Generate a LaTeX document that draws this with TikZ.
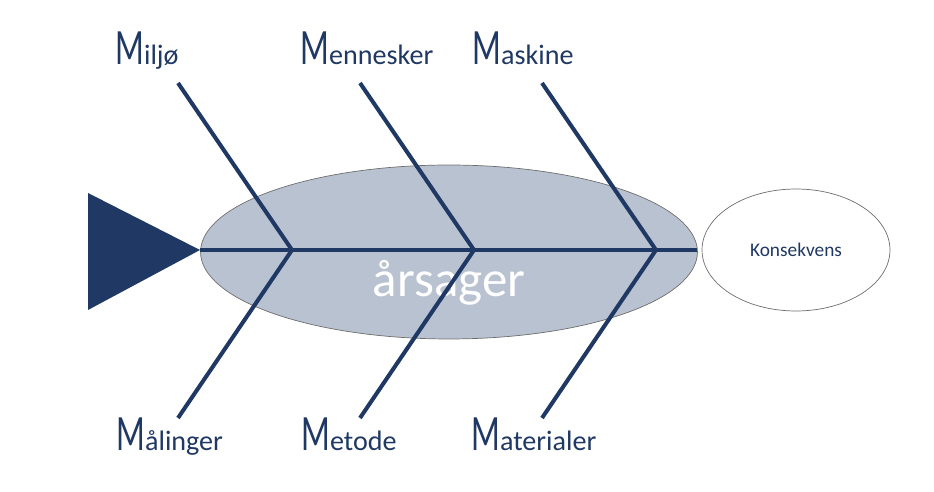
\documentclass[tikz,border=0pt]{standalone}
\usepackage{fontspec}
\setmainfont{Carlito}
\newfontfamily\capfont[FakeStretch=0.66]{Carlito}
\usetikzlibrary{shapes.geometric}
\usetikzlibrary{positioning}

\definecolor{navy}{RGB}{31,56,100}
\definecolor{bodyfill}{RGB}{185,194,208}
\definecolor{rimgrey}{RGB}{110,110,110}

\tikzset{
  bone/.style={draw=navy, line width=2.3pt},
  bodyshape/.style={ellipse, draw=rimgrey, line width=0.4pt, fill=bodyfill,
    minimum width=9.94cm, minimum height=3.48cm, inner sep=0pt},
  headshape/.style={ellipse, draw=rimgrey, line width=0.4pt, fill=white,
    minimum width=3.76cm, minimum height=2.44cm, inner sep=0pt},
  catlabel/.style={anchor=base west, inner sep=0pt, text=navy,
    font=\fontsize{16}{18}\selectfont},
}
\newcommand{\bigM}{{\capfont\fontsize{29}{30}\selectfont M}}

\begin{document}
\begin{tikzpicture}[x=0.02cm, y=-0.02cm]
\useasboundingbox (0,0) rectangle (934,492);

% body and head
\node[bodyshape] (body) at (449,252) {};
\node[headshape, text=navy] (kons) at (796,250) {\fontsize{11}{13}\selectfont Konsekvens};
\node[text=white, font=\fontsize{29}{32}\selectfont] (cause) at (449,283) {årsager};

% tail
\coordinate (tip) at (200,250);
\fill[navy] (88,193) -- (tip) -- (88,310) -- cycle;

% spine
\draw[bone, shorten >=0.1cm] (tip) -- (kons.west);

% bones
\foreach \j/\name in {292/a, 474/b, 656/c}{
  \coordinate (j\name) at (\j,250);
  \coordinate (t\name) at (\j-114,83);
  \coordinate (b\name) at (\j-114,418);
  \draw[bone] (t\name) -- (j\name) -- (b\name);
}

% labels
\node[catlabel] (miljo) at (115,65) {\bigM iljø};
\node[catlabel] (menn) at (300,65) {\bigM ennesker};
\node[catlabel] (mask) at (472,65) {\bigM askine};
\node[catlabel] (maal) at (116,451) {\bigM ålinger};
\node[catlabel] (meto) at (301,451) {\bigM etode};
\node[catlabel] (mate) at (471,451) {\bigM aterialer};
\end{tikzpicture}
\end{document}
